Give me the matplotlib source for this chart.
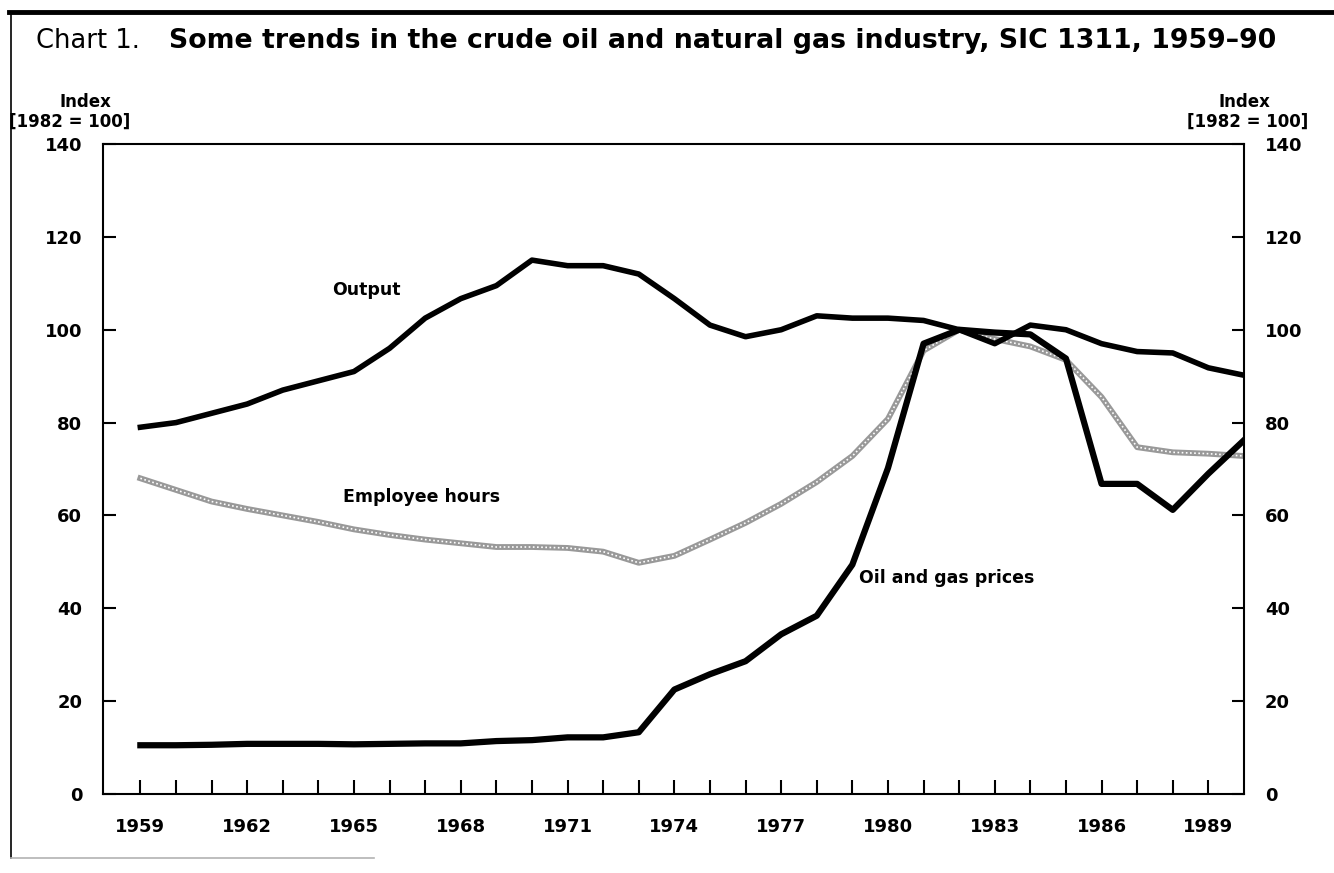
import numpy as np
import matplotlib.pyplot as plt

plt.rcParams['font.family'] = ['DejaVu Sans']
plt.rcParams['font.weight'] = 'bold'

years = np.arange(1959, 1991)

# Index values, 1982 = 100
output = [79, 80, 82, 84, 87, 89, 91, 96, 102.5, 106.7, 109.5, 115, 113.8, 113.8, 112, 106.7,
          101, 98.5, 100, 103, 102.5, 102.5, 102, 100, 97, 101, 100, 97, 95.3, 95, 91.8, 90.2]
hours = [68, 65.5, 63, 61.4, 60, 58.6, 57, 55.8, 54.8, 54, 53.2, 53.2, 53, 52.2, 49.8, 51.3,
         54.8, 58.4, 62.5, 67.2, 72.8, 80.8, 95.5, 100, 98, 96.4, 93.5, 85.5, 74.7, 73.6, 73.3, 72.8]
prices = [10.5, 10.5, 10.6, 10.8, 10.8, 10.8, 10.7, 10.8, 10.9, 10.9, 11.4, 11.6, 12.2, 12.2, 13.3, 22.5,
          25.8, 28.6, 34.4, 38.4, 49.4, 70.2, 97, 100, 99.4, 99, 93.8, 66.8, 66.8, 61.2, 69, 76.2]

year_ticks = np.arange(1959, 1990)
year_labels = [str(y) if (y - 1959) % 3 == 0 else '' for y in year_ticks]
y_ticks = np.arange(0, 141, 20)

fig = plt.figure(figsize=(13.34, 8.73), dpi=100)
ax = fig.add_axes([0.0772, 0.0905, 0.8553, 0.7445])

# lines
ax.plot(years, output, color='black', lw=4.0, zorder=3)
ax.plot(years, hours, color='0.6', lw=4.2, zorder=2)
ax.plot(years, hours, color='white', lw=1.2, linestyle=(0, (1, 1.5)), zorder=2)
ax.plot(years, prices, color='black', lw=4.5, zorder=4)

# labels on lines
ax.text(1964.4, 108.5, 'Output', fontsize=12.5, va='center', ha='left')
ax.text(1964.7, 64, 'Employee hours', fontsize=12.5, va='center', ha='left')
ax.text(1979.2, 46.6, 'Oil and gas prices', fontsize=12.5, va='center', ha='left')

ax.set_xlim(1957.95, 1990)
ax.set_ylim(0, 140)
ax.set_xticks(year_ticks)
ax.set_xticklabels(year_labels)
ax.set_yticks(y_ticks)

ax.tick_params(axis='x', direction='in', length=10, width=1.5, labelsize=13, pad=17)
ax.tick_params(axis='y', direction='in', length=9, width=1.5, labelsize=13, pad=15,
               right=True, labelright=True)
for s in ax.spines.values():
    s.set_linewidth(1.5)

# axis captions
fig.text(0.064, 0.883, 'Index', fontsize=12, ha='center', va='center')
fig.text(0.052, 0.861, '[1982 = 100]', fontsize=12, ha='center', va='center')
fig.text(0.933, 0.883, 'Index', fontsize=12, ha='center', va='center')
fig.text(0.935, 0.861, '[1982 = 100]', fontsize=12, ha='center', va='center')

# title
fig.text(0.027, 0.953, 'Chart 1.', fontsize=18.5, fontweight='normal', ha='left', va='center')
fig.text(0.127, 0.953, 'Some trends in the crude oil and natural gas industry, SIC 1311, 1959\u201390',
         fontsize=19.3, fontweight='bold', ha='left', va='center')

# page frame
fig.add_artist(plt.Line2D([0.007, 1.0], [0.986, 0.986], color='black', lw=3.5,
                          transform=fig.transFigure))
fig.add_artist(plt.Line2D([0.008, 0.008], [0.986, 0.017], color='black', lw=1.2,
                          transform=fig.transFigure))
fig.add_artist(plt.Line2D([0.008, 0.28], [0.017, 0.017], color='0.7', lw=1.2,
                          transform=fig.transFigure))

fig.savefig('out.png', dpi=100)
